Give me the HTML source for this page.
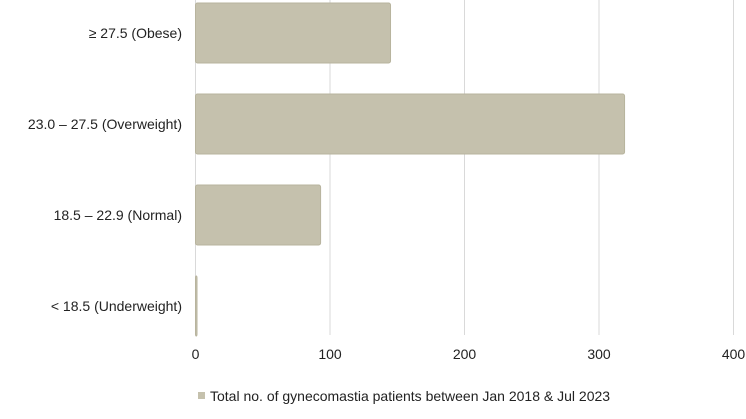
<!DOCTYPE html>
<html><head><meta charset="utf-8"><style>
body{margin:0;background:#fff;width:746px;height:419px;overflow:hidden;font-family:"Liberation Sans",sans-serif;}
</style></head><body>
<svg id="c" width="746" height="419" style="position:absolute;left:0;top:0"></svg>
<script>
const categories=["≥ 27.5 (Obese)","23.0 – 27.5 (Overweight)","18.5 – 22.9 (Normal)","< 18.5 (Underweight)"];
const values=[145,319,93,1];
const ticks=[0,100,200,300,400];
const legendLabel="Total no. of gynecomastia patients between Jan 2018 & Jul 2023";
const NS="http://www.w3.org/2000/svg";
const svg=document.getElementById('c');
const x0=195.5,pxPer=1.345,bandTop=3,band=91,barH=60;
const xs=v=>x0+v*pxPer;
function mk(t,a,txt){const e=document.createElementNS(NS,t);for(const k in a)e.setAttribute(k,a[k]);if(txt!==undefined)e.textContent=txt;svg.appendChild(e);return e;}
ticks.forEach(t=>{
 const g=mk('line',{x1:xs(t),x2:xs(t),y1:0,y2:335,stroke:'#d9d9d9','stroke-width':1});
 
 
 const l=mk('text',{x:xs(t),y:359,'text-anchor':'middle','font-size':14,fill:'#222'},t);
 
 
});
categories.forEach((c,i)=>{
 const y=bandTop+i*band;
 const b=mk('rect',{x:x0,y:y,width:Math.max(values[i]*pxPer,1.5),height:barH,rx:2,fill:'#c5c1ad',stroke:'#b8b49e','stroke-width':1});
 
 
 const t=mk('text',{x:182,y:y+barH/2+5,'text-anchor':'end','font-size':14,fill:'#222'},c);
 
 
});
const sw=mk('rect',{x:198,y:392,width:7,height:7,fill:'#c5c1ad'});


const lt=mk('text',{x:210,y:401,'font-size':14,fill:'#222'},legendLabel);


</script>
</body></html>
